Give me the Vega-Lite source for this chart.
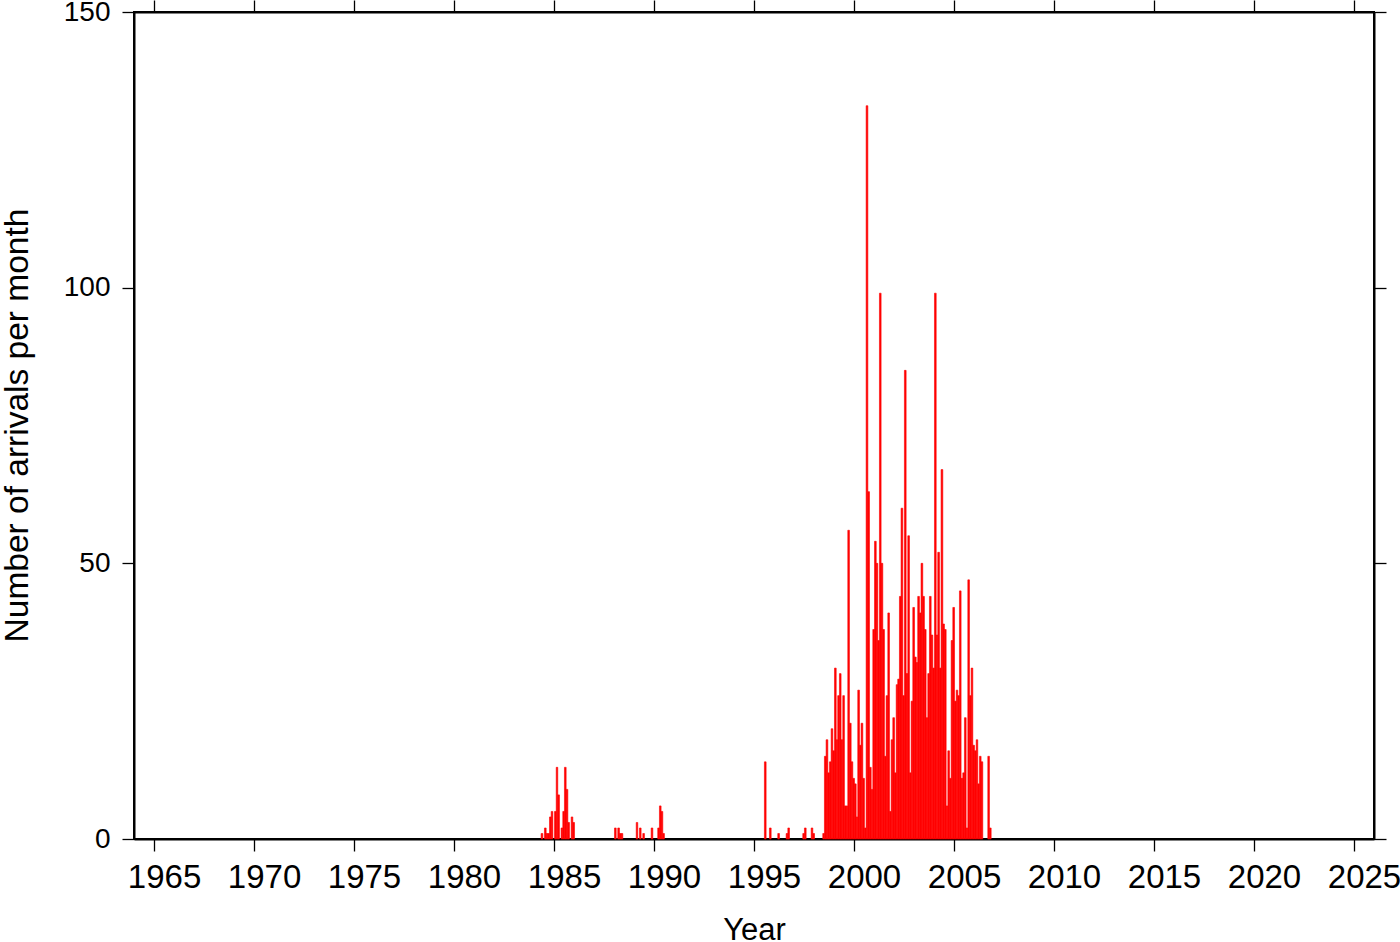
{
  "$schema": "https://vega.github.io/schema/vega-lite/v6.json",
  "width": 1240,
  "height": 827,
  "autosize": "none",
  "padding": {"left": 134, "top": 12, "right": 26, "bottom": 103},
  "background": "white",
  "data": {"values": [
    {"date": "1984-05-01", "n": 1}, {"date": "1984-07-01", "n": 2}, {"date": "1984-08-01", "n": 1}, {"date": "1984-09-01", "n": 1}, {"date": "1984-10-01", "n": 4}, {"date": "1984-11-01", "n": 5},
    {"date": "1985-01-01", "n": 5}, {"date": "1985-02-01", "n": 13}, {"date": "1985-03-01", "n": 8}, {"date": "1985-05-01", "n": 2}, {"date": "1985-06-01", "n": 5}, {"date": "1985-07-01", "n": 13}, {"date": "1985-08-01", "n": 9}, {"date": "1985-09-01", "n": 3}, {"date": "1985-11-01", "n": 4}, {"date": "1985-12-01", "n": 3},
    {"date": "1988-01-01", "n": 2}, {"date": "1988-03-01", "n": 2}, {"date": "1988-04-01", "n": 1}, {"date": "1988-05-01", "n": 1},
    {"date": "1989-02-01", "n": 3}, {"date": "1989-04-01", "n": 2}, {"date": "1989-06-01", "n": 1}, {"date": "1989-11-01", "n": 2},
    {"date": "1990-03-01", "n": 2}, {"date": "1990-04-01", "n": 6}, {"date": "1990-05-01", "n": 5}, {"date": "1990-06-01", "n": 1},
    {"date": "1995-07-01", "n": 14}, {"date": "1995-10-01", "n": 2},
    {"date": "1996-03-01", "n": 1}, {"date": "1996-08-01", "n": 1}, {"date": "1996-09-01", "n": 2},
    {"date": "1997-06-01", "n": 1}, {"date": "1997-07-01", "n": 2}, {"date": "1997-11-01", "n": 2}, {"date": "1997-12-01", "n": 1},
    {"date": "1998-06-01", "n": 1}, {"date": "1998-07-01", "n": 15}, {"date": "1998-08-01", "n": 18}, {"date": "1998-09-01", "n": 12}, {"date": "1998-10-01", "n": 14}, {"date": "1998-11-01", "n": 20}, {"date": "1998-12-01", "n": 16},
    {"date": "1999-01-01", "n": 31}, {"date": "1999-02-01", "n": 18}, {"date": "1999-03-01", "n": 26}, {"date": "1999-04-01", "n": 30}, {"date": "1999-05-01", "n": 18}, {"date": "1999-06-01", "n": 26}, {"date": "1999-07-01", "n": 6}, {"date": "1999-08-01", "n": 6}, {"date": "1999-09-01", "n": 56}, {"date": "1999-10-01", "n": 21}, {"date": "1999-11-01", "n": 14}, {"date": "1999-12-01", "n": 11},
    {"date": "2000-01-01", "n": 10}, {"date": "2000-02-01", "n": 4}, {"date": "2000-03-01", "n": 27}, {"date": "2000-04-01", "n": 17}, {"date": "2000-05-01", "n": 21}, {"date": "2000-06-01", "n": 11}, {"date": "2000-07-01", "n": 2}, {"date": "2000-08-01", "n": 133}, {"date": "2000-09-01", "n": 63}, {"date": "2000-10-01", "n": 13}, {"date": "2000-11-01", "n": 9}, {"date": "2000-12-01", "n": 38},
    {"date": "2001-01-01", "n": 54}, {"date": "2001-02-01", "n": 50}, {"date": "2001-03-01", "n": 36}, {"date": "2001-04-01", "n": 99}, {"date": "2001-05-01", "n": 50}, {"date": "2001-06-01", "n": 38}, {"date": "2001-07-01", "n": 15}, {"date": "2001-08-01", "n": 26}, {"date": "2001-09-01", "n": 41}, {"date": "2001-10-01", "n": 5}, {"date": "2001-11-01", "n": 18}, {"date": "2001-12-01", "n": 22},
    {"date": "2002-01-01", "n": 12}, {"date": "2002-02-01", "n": 28}, {"date": "2002-03-01", "n": 29}, {"date": "2002-04-01", "n": 44}, {"date": "2002-05-01", "n": 60}, {"date": "2002-06-01", "n": 26}, {"date": "2002-07-01", "n": 85}, {"date": "2002-08-01", "n": 30}, {"date": "2002-09-01", "n": 55}, {"date": "2002-10-01", "n": 12}, {"date": "2002-11-01", "n": 25}, {"date": "2002-12-01", "n": 42},
    {"date": "2003-01-01", "n": 33}, {"date": "2003-02-01", "n": 32}, {"date": "2003-03-01", "n": 44}, {"date": "2003-04-01", "n": 41}, {"date": "2003-05-01", "n": 50}, {"date": "2003-06-01", "n": 44}, {"date": "2003-07-01", "n": 38}, {"date": "2003-08-01", "n": 22}, {"date": "2003-09-01", "n": 30}, {"date": "2003-10-01", "n": 44}, {"date": "2003-11-01", "n": 37}, {"date": "2003-12-01", "n": 31},
    {"date": "2004-01-01", "n": 99}, {"date": "2004-02-01", "n": 37}, {"date": "2004-03-01", "n": 52}, {"date": "2004-04-01", "n": 31}, {"date": "2004-05-01", "n": 67}, {"date": "2004-06-01", "n": 39}, {"date": "2004-07-01", "n": 38}, {"date": "2004-08-01", "n": 6}, {"date": "2004-09-01", "n": 16}, {"date": "2004-10-01", "n": 11}, {"date": "2004-11-01", "n": 36}, {"date": "2004-12-01", "n": 42},
    {"date": "2005-01-01", "n": 25}, {"date": "2005-02-01", "n": 27}, {"date": "2005-03-01", "n": 26}, {"date": "2005-04-01", "n": 45}, {"date": "2005-05-01", "n": 11}, {"date": "2005-06-01", "n": 12}, {"date": "2005-07-01", "n": 22}, {"date": "2005-08-01", "n": 2}, {"date": "2005-09-01", "n": 47}, {"date": "2005-10-01", "n": 26}, {"date": "2005-11-01", "n": 31}, {"date": "2005-12-01", "n": 17},
    {"date": "2006-01-01", "n": 16}, {"date": "2006-02-01", "n": 18}, {"date": "2006-03-01", "n": 10}, {"date": "2006-04-01", "n": 15}, {"date": "2006-05-01", "n": 14}, {"date": "2006-09-01", "n": 15}, {"date": "2006-10-01", "n": 2}
  ]},
  "layer": [
    {
      "mark": {"type": "bar", "color": "#ff0000", "stroke": "#ff0000", "strokeWidth": 0.6, "binSpacing": 0},
      "encoding": {
        "x": {
          "field": "date", "type": "temporal", "timeUnit": "utcyearmonth",
          "scale": {"domain": [{"year": 1964, "month": 1, "date": 1, "utc": true}, {"year": 2026, "month": 1, "date": 1, "utc": true}]},
          "axis": {
            "orient": "bottom", "title": "Year", "labelExpr": "utcFormat(datum.value, '%Y')",
            "values": [{"year": 1965, "utc": true}, {"year": 1970, "utc": true}, {"year": 1975, "utc": true}, {"year": 1980, "utc": true}, {"year": 1985, "utc": true}, {"year": 1990, "utc": true}, {"year": 1995, "utc": true}, {"year": 2000, "utc": true}, {"year": 2005, "utc": true}, {"year": 2010, "utc": true}, {"year": 2015, "utc": true}, {"year": 2020, "utc": true}, {"year": 2025, "utc": true}],
            "labelOffset": 10, "labelPadding": 10, "labelFlush": false, "labelOverlap": false, "labelFontSize": 33,
            "titleY": 100, "titleBaseline": "alphabetic", "titleFontSize": 31
          }
        },
        "y": {
          "field": "n", "type": "quantitative",
          "scale": {"domain": [0, 150], "nice": false},
          "axis": {
            "orient": "left", "title": "Number of arrivals per month", "values": [0, 50, 100, 150],
            "labelPadding": 12, "labelFontSize": 28,
            "titleX": -107, "titleY": 413, "titleBaseline": "alphabetic", "titleAngle": -90, "titleFontSize": 33.5
          }
        }
      }
    },
    {
      "mark": {"type": "bar", "opacity": 0},
      "encoding": {
        "x": {
          "field": "date", "type": "temporal", "timeUnit": "utcyearmonth",
          "scale": {"domain": [{"year": 1964, "month": 1, "date": 1, "utc": true}, {"year": 2026, "month": 1, "date": 1, "utc": true}]},
          "axis": {
            "orient": "top", "title": null, "labels": false,
            "values": [{"year": 1965, "utc": true}, {"year": 1970, "utc": true}, {"year": 1975, "utc": true}, {"year": 1980, "utc": true}, {"year": 1985, "utc": true}, {"year": 1990, "utc": true}, {"year": 1995, "utc": true}, {"year": 2000, "utc": true}, {"year": 2005, "utc": true}, {"year": 2010, "utc": true}, {"year": 2015, "utc": true}, {"year": 2020, "utc": true}, {"year": 2025, "utc": true}]
          }
        },
        "y": {
          "field": "n", "type": "quantitative",
          "scale": {"domain": [0, 150], "nice": false},
          "axis": {"orient": "right", "title": null, "labels": false, "values": [0, 50, 100, 150]}
        }
      }
    }
  ],
  "resolve": {"axis": {"x": "independent", "y": "independent"}},
  "config": {
    "font": "Liberation Sans",
    "view": {"stroke": "black", "strokeWidth": 2},
    "axis": {
      "grid": false, "domainColor": "black", "domainWidth": 2, "tickColor": "black", "tickWidth": 1.3, "tickSize": 12,
      "labelColor": "black", "labelFontSize": 30, "labelFont": "Liberation Sans",
      "titleColor": "black", "titleFontSize": 30, "titleFontWeight": "normal", "titleFont": "Liberation Sans"
    }
  }
}
